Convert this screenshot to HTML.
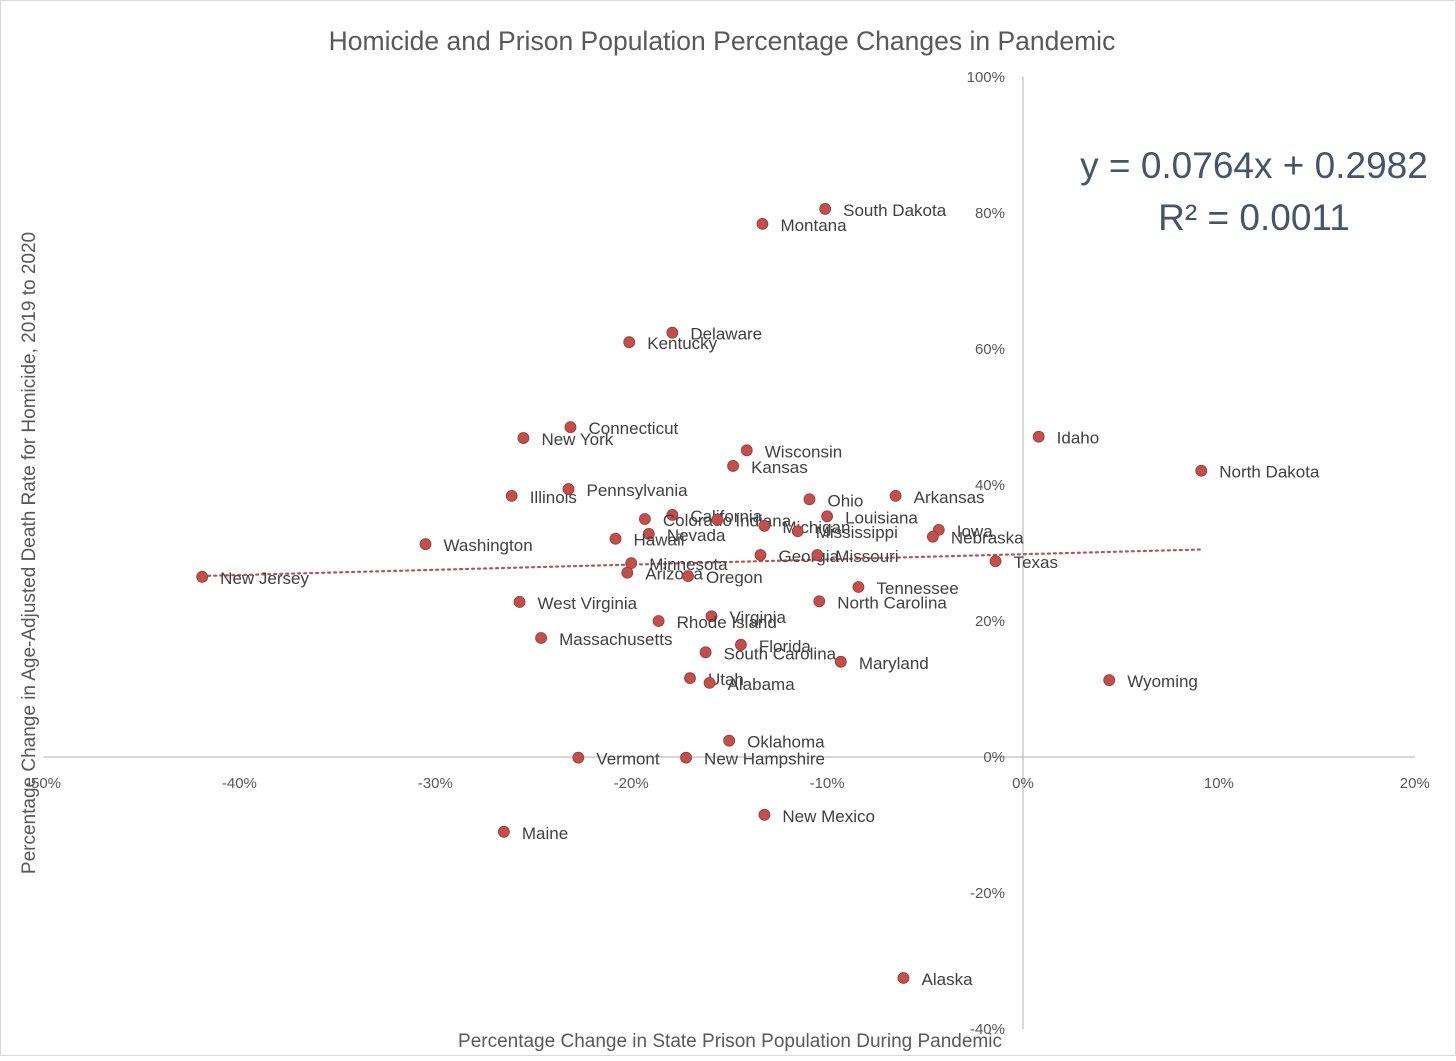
<!DOCTYPE html>
<html><head><meta charset="utf-8"><style>
body{margin:0;background:#fff}
svg text{font-family:"Liberation Sans",sans-serif}
</style></head><body>
<svg id="chart" width="1456" height="1056" xmlns="http://www.w3.org/2000/svg">
<rect x="0.5" y="0.5" width="1455" height="1055" fill="#fff" stroke="#d9d9d9"/>
<text x="722" y="50" text-anchor="middle" font-size="26.5" fill="#595959">Homicide and Prison Population Percentage Changes in Pandemic</text>
<text x="1254" y="178" text-anchor="middle" font-size="37" fill="#44546a">y = 0.0764x + 0.2982</text>
<text x="1254" y="230" text-anchor="middle" font-size="37" fill="#44546a">R² = 0.0011</text>
<text x="730" y="1047" text-anchor="middle" font-size="19" fill="#595959">Percentage Change in State Prison Population During Pandemic</text>
<text transform="translate(35,553) rotate(-90)" text-anchor="middle" font-size="19" fill="#595959">Percentage Change in Age-Adjusted Death Rate for Homicide, 2019 to 2020</text>
<g id="axes"></g><g id="trend"></g><g id="points"></g>
</svg>
<script>
const states=["South Dakota","Montana","Delaware","Kentucky","Connecticut","New York","Wisconsin","Kansas","Idaho","North Dakota","Illinois","Pennsylvania","Ohio","Arkansas","California","Colorado","Indiana","Louisiana","Michigan","Mississippi","Iowa","Nebraska","Nevada","Hawaii","Washington","Georgia","Missouri","Texas","Minnesota","Arizona","Oregon","New Jersey","Tennessee","West Virginia","North Carolina","Virginia","Rhode Island","Massachusetts","Florida","South Carolina","Maryland","Utah","Alabama","Wyoming","Oklahoma","Vermont","New Hampshire","New Mexico","Maine","Alaska"];
const prisonChange=[-10.1,-13.3,-17.9,-20.1,-23.1,-25.5,-14.1,-14.8,0.8,9.1,-26.1,-23.2,-10.9,-6.5,-17.9,-19.3,-15.6,-10.0,-13.2,-11.5,-4.3,-4.6,-19.1,-20.8,-30.5,-13.4,-10.5,-1.4,-20.0,-20.2,-17.1,-41.9,-8.4,-25.7,-10.4,-15.9,-18.6,-24.6,-14.4,-16.2,-9.3,-17.0,-16.0,4.4,-15.0,-22.7,-17.2,-13.2,-26.5,-6.1];
const homicideChange=[80.6,78.4,62.4,61.0,48.5,46.9,45.1,42.8,47.1,42.1,38.4,39.4,37.9,38.4,35.6,35.0,34.9,35.4,34.0,33.2,33.4,32.4,32.8,32.1,31.3,29.7,29.7,28.8,28.5,27.1,26.6,26.5,25.0,22.8,22.9,20.7,20.0,17.5,16.5,15.4,14.0,11.6,10.9,11.3,2.4,-0.1,-0.1,-8.5,-11.0,-32.5];
const xTicks=[-50,-40,-30,-20,-10,0,10,20];
const yTicks=[-40,-20,0,20,40,60,80,100];
const slope=0.0764, intercept=0.2982;
const NS="http://www.w3.org/2000/svg";
const X=v=>1023+(v/10)*195.9;
const Y=v=>757-(v/20)*136;
function mk(t,a,p){const e=document.createElementNS(NS,t);for(const k in a)e.setAttribute(k,a[k]);p.appendChild(e);return e;}
const ax=document.getElementById('axes');
let l=mk('line',{x1:X(-50),x2:X(20),y1:Y(0),y2:Y(0),stroke:'#bfbfbf','stroke-width':1.3},ax);


l=mk('line',{x1:X(0),x2:X(0),y1:Y(100),y2:Y(-40),stroke:'#bfbfbf','stroke-width':1.3},ax);


xTicks.forEach(v=>{const t=mk('text',{x:X(v),y:Y(0)+31,'text-anchor':'middle','font-size':15,fill:'#595959'},ax);t.textContent=v+'%';

});
yTicks.forEach(v=>{const t=mk('text',{x:X(0)-18,y:Y(v)+5,'text-anchor':'end','font-size':15,fill:'#595959'},ax);t.textContent=v+'%';

});
const tr=document.getElementById('trend');
const xmin=Math.min(...prisonChange),xmax=Math.max(...prisonChange);
l=mk('line',{x1:X(xmin),x2:X(xmax),y1:Y((slope*xmin/100+intercept)*100),y2:Y((slope*xmax/100+intercept)*100),stroke:'#c0504d','stroke-width':2.2,'stroke-dasharray':'2 4','stroke-linecap':'round'},tr);


const pg=document.getElementById('points');
states.forEach((s,i)=>{const cx=X(prisonChange[i]),cy=Y(homicideChange[i]);
const c=mk('circle',{cx:cx,cy:cy,r:5.5,fill:'#c0504d',stroke:'#9e3a37','stroke-width':0.8},pg);


const t=mk('text',{x:cx+18,y:cy+7,'font-size':17,fill:'#404040'},pg);t.textContent=s;

});
</script>
</body></html>
